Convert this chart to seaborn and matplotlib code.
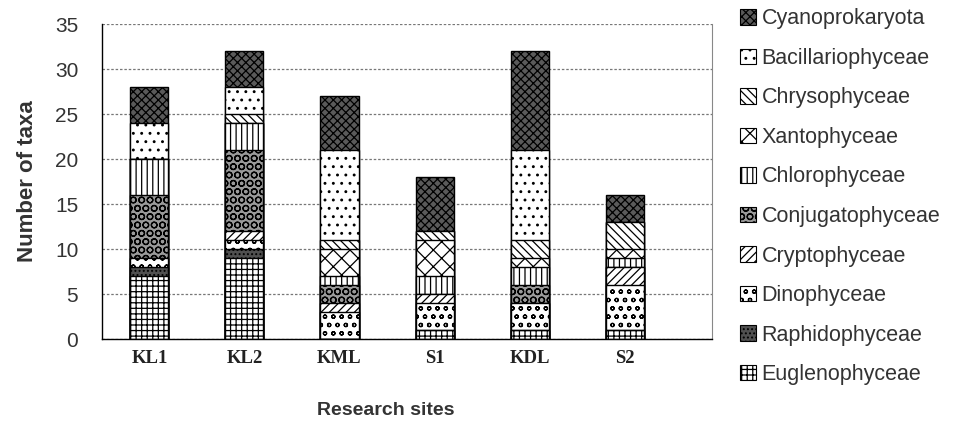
import pandas as pd
import matplotlib
matplotlib.use("Agg")
import matplotlib.pyplot as plt
from matplotlib.patches import Patch
import seaborn as sns

sites = ["KL1", "KL2", "KML", "S1", "KDL", "S2"]

# number of taxa per class, bottom of the stack first
euglenophyceae = [7, 9, 0, 1, 1, 1]
raphidophyceae = [1, 1, 0, 0, 0, 0]
dinophyceae = [1, 1, 3, 3, 3, 5]
cryptophyceae = [0, 1, 1, 1, 0, 2]
conjugatophyceae = [7, 9, 2, 0, 2, 0]
chlorophyceae = [4, 3, 1, 2, 2, 1]
xantophyceae = [0, 0, 3, 4, 1, 1]
chrysophyceae = [0, 1, 1, 1, 2, 3]
bacillariophyceae = [4, 3, 10, 0, 10, 0]
cyanoprokaryota = [4, 4, 6, 6, 11, 3]

groups = ["Euglenophyceae", "Raphidophyceae", "Dinophyceae", "Cryptophyceae",
          "Conjugatophyceae", "Chlorophyceae", "Xantophyceae", "Chrysophyceae",
          "Bacillariophyceae", "Cyanoprokaryota"]
values = [euglenophyceae, raphidophyceae, dinophyceae, cryptophyceae,
          conjugatophyceae, chlorophyceae, xantophyceae, chrysophyceae,
          bacillariophyceae, cyanoprokaryota]

# grayscale fill + hatch for each class (scanned b/w look)
styles = {
    "Euglenophyceae": ("white", "+++"),
    "Raphidophyceae": ("#505050", "...."),
    "Dinophyceae": ("white", "oo"),
    "Cryptophyceae": ("white", "////"),
    "Conjugatophyceae": ("#9a9a9a", "OO"),
    "Chlorophyceae": ("white", "|||"),
    "Xantophyceae": ("white", "xx"),
    "Chrysophyceae": ("white", "\\\\\\\\"),
    "Bacillariophyceae": ("white", ".."),
    "Cyanoprokaryota": ("#5a5a5a", "xxxx"),
}

df = pd.DataFrame(dict(zip(groups, values)), index=sites)
cum = df.cumsum(axis=1)

sns.set_style("white")
plt.rcParams["font.family"] = ["Liberation Sans", "DejaVu Sans"]
plt.rcParams["hatch.linewidth"] = 0.9

fig = plt.figure(figsize=(9.61, 4.38), dpi=100)
ax = fig.add_axes([0.106, 0.226, 0.635, 0.719])

# draw cumulative totals from the top layer down so each layer covers the one above
for g in groups[::-1]:
    face, hatch = styles[g]
    sns.barplot(x=sites, y=cum[g].values, ax=ax, color=face, saturation=1,
                width=0.4, edgecolor="black", linewidth=1.0, hatch=hatch)

ax.set_ylim(0, 35)
ax.set_xlim(-0.5, 5.92)
ax.set_yticks(range(0, 36, 5))
ax.yaxis.grid(True, linestyle=(0, (2, 1.5)), color="#777777", linewidth=0.9)
ax.set_axisbelow(True)
for s in ["left", "bottom"]:
    ax.spines[s].set_color("black")
    ax.spines[s].set_linewidth(1.0)
ax.spines["top"].set_visible(False)
ax.spines["right"].set_color("#888888")

ax.tick_params(axis="y", labelsize=15, length=4, pad=13, color="#555555", labelcolor="#333333")
ax.tick_params(axis="x", which="major", length=0, pad=8)
ax.set_xticks([i + 0.5 for i in range(5)], minor=True)
ax.tick_params(axis="x", which="minor", length=4)
for lab in ax.get_xticklabels():
    lab.set_fontfamily("Liberation Serif")
    lab.set_fontweight("bold")
    lab.set_fontsize(13.5)
    lab.set_color("#222222")

ax.set_ylabel("Number of taxa", fontsize=16, fontweight="bold", color="#333333", labelpad=12)
ax.set_xlabel("Research sites", fontsize=14, fontweight="bold", color="#333333")
ax.xaxis.set_label_coords(0.465, -0.2)

handles = [Patch(facecolor=styles[g][0], hatch=styles[g][1], edgecolor="black",
                 linewidth=0.8, label=g) for g in groups[::-1]]
fig.legend(handles=handles, loc="upper left", bbox_to_anchor=(0.75, 1.025),
           frameon=False, fontsize=15.5, handlelength=0.75, handleheight=0.75,
           handletextpad=0.25, labelspacing=0.86, labelcolor="#333333")

fig.savefig("out.png", dpi=100)
